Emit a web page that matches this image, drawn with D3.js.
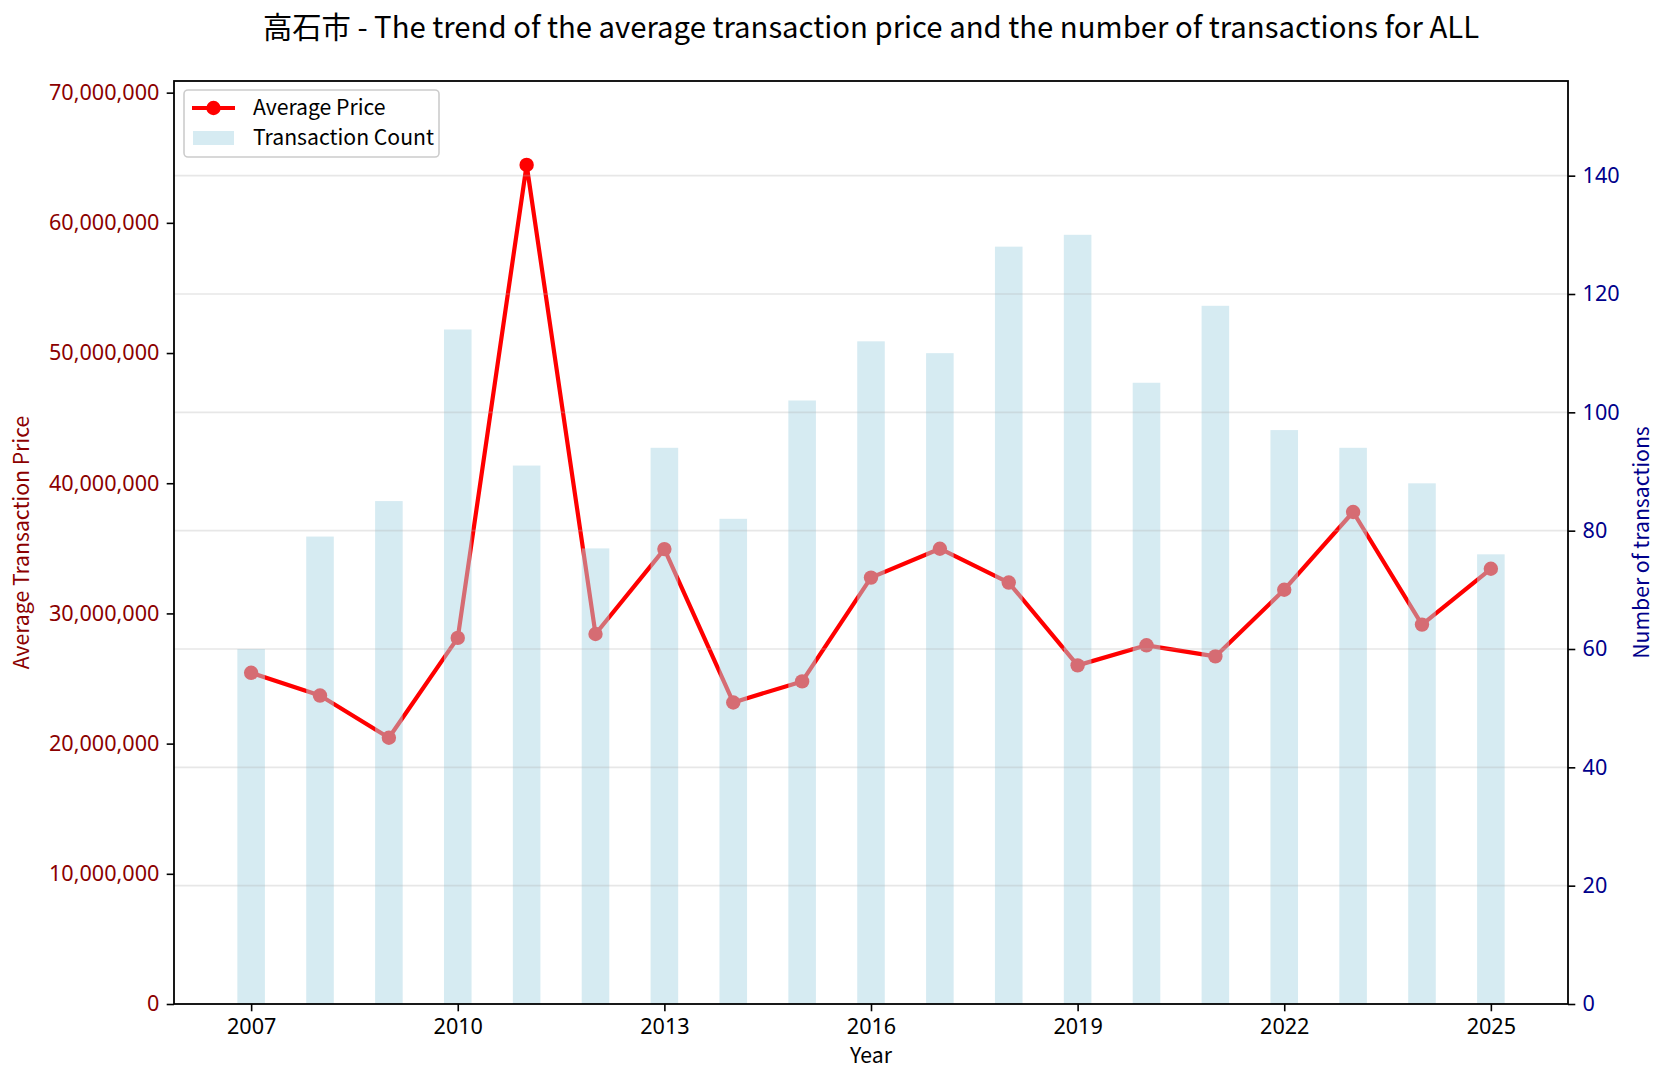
<!DOCTYPE html>
<html>
<head>
<meta charset="utf-8">
<script src="https://cdn.jsdelivr.net/npm/d3@7"></script>
<style>
  html, body { margin: 0; padding: 0; background: #fff; }
  svg { display: block; }
  text { font-family: "Noto Sans CJK JP", "Noto Sans", sans-serif; }
  .tick text { font-family: "Noto Sans", "Noto Sans CJK JP", sans-serif; }
</style>
</head>
<body>
<svg id="chart" width="1666" height="1082"></svg>
<script>
const years = [2007, 2008, 2009, 2010, 2011, 2012, 2013, 2014, 2015, 2016, 2017, 2018, 2019, 2020, 2021, 2022, 2023, 2024, 2025];
const avgPrice = [25440000, 23690000, 20450000, 28120000, 64450000, 28420000, 34940000, 23160000, 24780000, 32750000, 34970000, 32370000, 26010000, 27550000, 26700000, 31820000, 37790000, 29140000, 33430000];
const txCount = [60, 79, 85, 114, 91, 77, 94, 82, 102, 112, 110, 128, 130, 105, 118, 97, 94, 88, 76];
const xTicks = [2007, 2010, 2013, 2016, 2019, 2022, 2025];
const priceTicks = [0, 10000000, 20000000, 30000000, 40000000, 50000000, 60000000, 70000000];
const countTicks = [0, 20, 40, 60, 80, 100, 120, 140];
const titleText = "高石市 - The trend of the average transaction price and the number of transactions for ALL";

const svg = d3.select("#chart");
const M = { left: 174, right: 1568, top: 81, bottom: 1004 };
const barW = 0.4;
const xMin = years[0] - barW / 2, xMax = years[years.length - 1] + barW / 2;
const pad = (xMax - xMin) * 0.05;

const x = d3.scaleLinear().domain([xMin - pad, xMax + pad]).range([M.left, M.right]);
const yP = d3.scaleLinear().domain([0, d3.max(avgPrice) * 1.1]).range([M.bottom, M.top]);
const yC = d3.scaleLinear().domain([0, d3.max(txCount) * 1.2]).range([M.bottom, M.top]);

const fontTick = 21.6;
const fontLabel = 21.2;

// price line (primary axes, underneath)
const line = d3.line().x((d, i) => x(years[i])).y(d => yP(d));
svg.append("path").datum(avgPrice)
  .attr("d", line).attr("fill", "none")
  .attr("stroke", "#ff0000").attr("stroke-width", 4.2)
  .attr("stroke-linejoin", "round").attr("stroke-linecap", "butt");
svg.append("g").selectAll("circle").data(avgPrice).join("circle")
  .attr("cx", (d, i) => x(years[i])).attr("cy", d => yP(d))
  .attr("r", 7.2).attr("fill", "#ff0000");

// bars (secondary axes, on top)
svg.append("g").selectAll("rect").data(txCount).join("rect")
  .attr("x", (d, i) => x(years[i] - barW / 2))
  .attr("width", (d, i) => x(years[i] + barW / 2) - x(years[i] - barW / 2))
  .attr("y", d => yC(d)).attr("height", d => yC(0) - yC(d))
  .attr("fill", "#add8e6").attr("fill-opacity", 0.5);

// grid from secondary axis
svg.append("g").selectAll("line").data(countTicks.filter(t => t > 0)).join("line")
  .attr("x1", M.left).attr("x2", M.right)
  .attr("y1", d => yC(d)).attr("y2", d => yC(d))
  .attr("stroke", "#b0b0b0").attr("stroke-opacity", 0.3).attr("stroke-width", 1.6);

// axes
const tickLen = 7.3, tickPad = 7.3;
const gL = svg.append("g").attr("transform", `translate(${M.left},0)`)
  .call(d3.axisLeft(yP).tickValues(priceTicks).tickFormat(d3.format(",")).tickSizeOuter(0).tickSize(tickLen).tickPadding(tickPad));
gL.select(".domain").remove();
gL.selectAll(".tick line").attr("stroke", "#000").attr("stroke-width", 1.6);
gL.selectAll(".tick text").attr("fill", "#8b0000").style("font-size", fontTick + "px");

const gR = svg.append("g").attr("transform", `translate(${M.right},0)`)
  .call(d3.axisRight(yC).tickValues(countTicks).tickSizeOuter(0).tickSize(tickLen).tickPadding(tickPad));
gR.select(".domain").remove();
gR.selectAll(".tick line").attr("stroke", "#000").attr("stroke-width", 1.6);
gR.selectAll(".tick text").attr("fill", "#00008b").style("font-size", fontTick + "px");

const gB = svg.append("g").attr("transform", `translate(0,${M.bottom})`)
  .call(d3.axisBottom(x).tickValues(xTicks).tickFormat(d3.format("d")).tickSizeOuter(0).tickSize(tickLen).tickPadding(tickPad));
gB.select(".domain").remove();
gB.selectAll(".tick line").attr("stroke", "#000").attr("stroke-width", 1.6);
gB.selectAll(".tick text").attr("fill", "#000").style("font-size", fontTick + "px");

// frame
svg.append("rect").attr("x", M.left).attr("y", M.top)
  .attr("width", M.right - M.left).attr("height", M.bottom - M.top)
  .attr("fill", "none").attr("stroke", "#000").attr("stroke-width", 1.8);

// labels
svg.append("text").attr("x", (M.left + M.right) / 2).attr("y", 1063)
  .attr("text-anchor", "middle").style("font-size", fontLabel + "px").attr("fill", "#000").text("Year");
svg.append("text").attr("transform", `translate(29,${(M.top + M.bottom) / 2}) rotate(-90)`)
  .attr("text-anchor", "middle").style("font-size", fontLabel + "px").attr("fill", "#8b0000").text("Average Transaction Price");
svg.append("text").attr("transform", `translate(1649,${(M.top + M.bottom) / 2}) rotate(-90)`)
  .attr("text-anchor", "middle").style("font-size", fontLabel + "px").attr("fill", "#00008b").text("Number of transactions");

// title
svg.append("text").attr("x", (M.left + M.right) / 2).attr("y", 37.5)
  .attr("text-anchor", "middle").style("font-size", "29.3px").attr("fill", "#000").text(titleText);

// legend
const lg = svg.append("g");
lg.append("rect").attr("x", 184).attr("y", 90).attr("width", 255).attr("height", 67)
  .attr("rx", 4).attr("fill", "#fff").attr("fill-opacity", 0.8)
  .attr("stroke", "#cccccc").attr("stroke-width", 1.6);
lg.append("line").attr("x1", 192).attr("x2", 235).attr("y1", 108).attr("y2", 108)
  .attr("stroke", "#ff0000").attr("stroke-width", 4.2);
lg.append("circle").attr("cx", 213.5).attr("cy", 108).attr("r", 7.2).attr("fill", "#ff0000");
lg.append("text").attr("x", 253).attr("y", 108).attr("dy", "0.35em").style("font-size", fontLabel + "px").attr("fill", "#000").text("Average Price");
lg.append("rect").attr("x", 193).attr("y", 131).attr("width", 41).attr("height", 14)
  .attr("fill", "#add8e6").attr("fill-opacity", 0.5);
lg.append("text").attr("x", 253).attr("y", 138).attr("dy", "0.35em").style("font-size", fontLabel + "px").attr("fill", "#000").text("Transaction Count");
</script>
</body>
</html>
